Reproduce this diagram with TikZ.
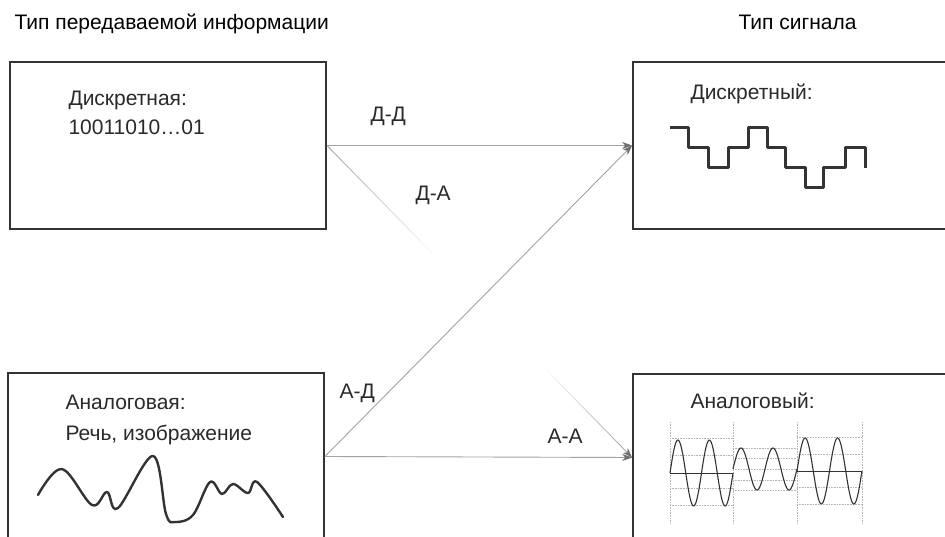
\documentclass[tikz,border=0pt]{standalone}
\usepackage{fontspec}
\setmainfont{Liberation Sans}
\usetikzlibrary{arrows.meta,calc,fadings}
\definecolor{Frame}{HTML}{333333}
\definecolor{LinkGrey}{HTML}{A3A3A3}
\definecolor{TipGrey}{HTML}{6E6E6E}
\definecolor{GridGrey}{HTML}{B5B5B5}
\definecolor{Ink}{HTML}{2A2A2A}
\begin{document}
\begin{tikzpicture}[x=1pt,y=-1pt,>={Stealth[length=10pt,width=7pt,color=TipGrey]},every node/.style={font=\fontsize{21}{25}\selectfont,text=Ink},
  infobox/.style={draw=Frame,line width=1.8pt,minimum width=316pt,minimum height=167pt,inner sep=0pt},
  link/.style={LinkGrey,line width=.9pt},wave/.style={Frame,line width=2.4pt,line join=round,line cap=round},grid/.style={GridGrey,densely dotted,line width=.6pt}]
\useasboundingbox (0,0) rectangle (945,537); \clip (0,0) rectangle (945,537); \fill[white] (0,0) rectangle (945,537);
\node[anchor=base west,text=black] (infotitle) at (11,30){Тип передаваемой информации}; \node[anchor=base west,text=black] (sigtitle) at (735,30){Тип сигнала};
\node[infobox] (dinfo) at (168,145.5){}; \node[infobox] (ainfo) at (166,456.5){}; \node[infobox] (dsig) at (791,145.5){}; \node[infobox] (asig) at (791,457.5){};
\node[anchor=base west] (dinfoname) at (65,106){Дискретная:}; \node[anchor=base west] (dinfodata) at (65,135){10011010\ldots01};
\node[anchor=base west] (ainfoname) at (62,409){Аналоговая:}; \node[anchor=base west] (ainfodata) at (62,440){Речь, изображение};
\node[anchor=base west] (dsigname) at (687,100){Дискретный:}; \node[anchor=base west] (asigname) at (687,408){Аналоговый:};
\draw[link,->] (dinfo.east) -- (dsig.west); \draw[link,->] (ainfo.east) -- (dsig.west); \draw[link,->] (ainfo.east) -- (asig.west);
\coordinate (dafade) at ($(dinfo.east)!.36!(asig.west)$); \coordinate (darise) at ($(dinfo.east)!.7!(asig.west)$);
\draw[link,path fading=east] (dinfo.east) -- (dafade); \draw[link,->,path fading=west] (darise) -- (asig.west);
\node[anchor=base west] (ddlabel) at (367,122){Д-Д}; \node[anchor=base west] (dalabel) at (412,201){Д-А}; \node[anchor=base west] (adlabel) at (336,398){А-Д}; \node[anchor=base west] (aalabel) at (544,443){А-А};
\draw[wave,line width=3pt,line cap=butt] (670,128) -| (688,148) -| (708,168) -| (728,148) -| (748,128) -| (767,148) -| (785,168) -| (805,188) -| (823,168) -| (845,148) -| (865,168);
\draw[wave] plot[smooth,tension=.6] coordinates {(38,495) (62,469) (92,505) (107,492) (118,508) (153,456) (166,514) (175,522) (193,515) (210,482) (222,494) (233,484) (248,493) (257,482) (283,517)};
\foreach \gx in {670,733,797,862} \draw[grid] (\gx,422) -- (\gx,523);
\foreach \gy in {438,455,488,505} {\draw[grid] (670,\gy) -- (733,\gy); \draw[grid] (797,\gy-1) -- (862,\gy-1);}
\foreach \gy in {448,458,469,480,490} \draw[grid] (733,\gy) -- (797,\gy);
\draw[Frame,line width=.7pt] (670,473) -- (733,473); \draw[Frame,line width=.7pt] (797,471) -- (862,471);
\draw[Frame,line width=1.1pt] plot[domain=0:63,samples=80] (670+\x,{473-33*sin(11.43*\x)});
\draw[Frame,line width=1.1pt] plot[domain=0:64,samples=80] (733+\x,{469-21*sin(11.25*\x)});
\draw[Frame,line width=1.1pt] plot[domain=0:65,samples=80] (797+\x,{471-33*sin(11.08*\x)});
\end{tikzpicture}
\end{document}
